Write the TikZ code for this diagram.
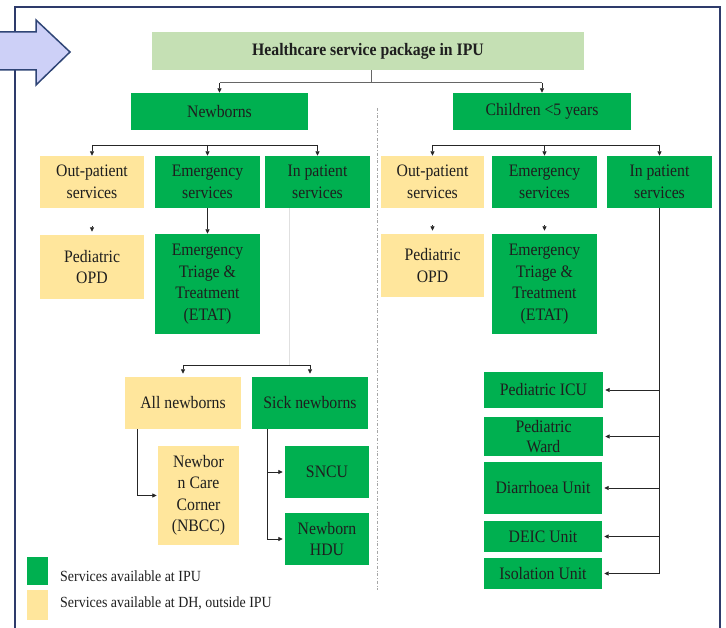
\documentclass[tikz,border=0pt]{standalone}
\usepackage{fontspec}
\setmainfont[FakeStretch=0.9]{Liberation Serif}
\usetikzlibrary{arrows.meta}
\definecolor{ipugreen}{HTML}{00B050}
\definecolor{dhyellow}{HTML}{FFE69C}
\definecolor{titlegreen}{HTML}{C5E0B4}
\definecolor{framenavy}{HTML}{2E3B6B}
\definecolor{arrowfill}{HTML}{CDD0F7}
\definecolor{arrowline}{HTML}{2F4576}
\definecolor{textdark}{HTML}{1E1E1E}
\begin{document}
\begin{tikzpicture}[x=1pt,y=-1pt,
  box/.style={draw=none, inner sep=0pt, align=center, text=textdark, font=\fontsize{17.5}{21.5}\selectfont},
  gbox/.style={box, fill=ipugreen},
  ybox/.style={box, fill=dhyellow},
  conn/.style={draw=black!85, line width=0.8pt},
  gconn/.style={draw=black!60, line width=1pt},
  faint/.style={draw=black!12, line width=0.8pt},
  arr/.style={conn, -{Triangle[length=4.5pt,width=4pt]}},
  sep/.style={draw=black!35, line width=0.5pt, dash pattern=on 3pt off 2pt on 0.5pt off 2pt},
  legtext/.style={anchor=west, inner sep=0pt, text=textdark, font=\fontsize{15.5}{17}\selectfont},
]
\useasboundingbox (0,0) rectangle (726,628);

% frame
\draw[framenavy, line width=2.5pt] (15,640) -- (15,7) -- (720,7) -- (720,640);
% block arrow
\draw[fill=arrowfill, draw=arrowline, line width=1.5pt, line join=miter]
  (-3,32) -- (36,32) -- (36,20) -- (70,52) -- (36,85) -- (36,70) -- (-3,70) -- cycle;

% separator
\coordinate (s1) at (377,108);
\coordinate (s2) at (377,590);
\draw[sep] (s1) -- (s2);

% nodes
\node[box, fill=titlegreen, minimum width=432pt, minimum height=38pt, font=\fontsize{17.5}{20}\selectfont\bfseries] (title) at (368,51) {Healthcare service package in IPU};
\node[gbox, minimum width=177pt, minimum height=37pt] (newb) at (219.5,111.5) {Newborns};
\node[gbox, minimum width=178pt, minimum height=37pt] (child) at (542,111.5) {Children <5 years};

\node[ybox, minimum width=104pt, minimum height=52pt] (outl) at (92,182) {Out-patient\\services};
\node[gbox, minimum width=105pt, minimum height=52pt] (eml) at (207.5,182) {Emergency\\services};
\node[gbox, minimum width=105pt, minimum height=52pt] (inl) at (317.5,182) {In patient\\services};
\node[ybox, minimum width=104pt, minimum height=64pt] (opdl) at (92,267) {Pediatric\\OPD};
\node[gbox, minimum width=105pt, minimum height=100pt] (etatl) at (207.5,284) {Emergency\\Triage \&\\Treatment\\(ETAT)};

\node[ybox, minimum width=103pt, minimum height=52pt] (outr) at (432.5,182) {Out-patient\\services};
\node[gbox, minimum width=105pt, minimum height=52pt] (emr) at (544.5,182) {Emergency\\services};
\node[gbox, minimum width=105pt, minimum height=52pt] (inr) at (659.5,182) {In patient\\services};
\node[ybox, minimum width=103pt, minimum height=63pt] (opdr) at (432.5,265.5) {Pediatric\\OPD};
\node[gbox, minimum width=105pt, minimum height=100pt] (etatr) at (544.5,284) {Emergency\\Triage \&\\Treatment\\(ETAT)};

\node[gbox, minimum width=119pt, minimum height=36pt] (icu) at (543.5,390) {Pediatric ICU};
\node[gbox, minimum width=119pt, minimum height=39pt, font=\fontsize{17.5}{20}\selectfont] (ward) at (543.5,436.5) {Pediatric\\Ward};
\node[gbox, minimum width=118pt, minimum height=52pt] (diar) at (543,488) {Diarrhoea Unit};
\node[gbox, minimum width=118pt, minimum height=31pt] (deic) at (543,536.5) {DEIC Unit};
\node[gbox, minimum width=118pt, minimum height=31pt] (iso) at (543,573.5) {Isolation Unit};

\node[ybox, minimum width=116pt, minimum height=52pt] (allnb) at (183,403) {All newborns};
\node[gbox, minimum width=116pt, minimum height=52pt] (sick) at (310,403) {Sick newborns};
\node[ybox, minimum width=81pt, minimum height=99pt] (nbcc) at (198.5,495.5) {Newbor\\n Care\\Corner\\(NBCC)};
\node[gbox, minimum width=84pt, minimum height=52pt] (sncu) at (327,472) {SNCU};
\node[gbox, minimum width=84pt, minimum height=52pt] (hdu) at (327,539) {Newborn\\HDU};

% legend
\node[gbox, minimum width=21pt, minimum height=28pt] (leg1) at (37.5,571) {};
\node[ybox, minimum width=21pt, minimum height=30pt] (leg2) at (37.5,605) {};
\node[legtext] (legt1) at (60,576) {Services available at IPU};
\node[legtext] (legt2) at (60,603) {Services available at DH, outside IPU};

% top connectors
\coordinate (j1) at (371,83);
\draw[gconn] (title.south -| j1) -- (j1);
\draw[gconn] (newb.north |- j1) -- (child.north |- j1);
\draw[arr] (newb.north |- j1) -- (newb.north);
\draw[arr] (child.north |- j1) -- (child.north);

% row 2 connectors
\coordinate (j2) at (0,145);
\draw[conn] (outl.north |- j2) -- (inl.north |- j2);
\draw[conn] (outr.north |- j2) -- (inr.north |- j2);
\foreach \n in {outl,eml,inl,outr,emr,inr}{
  \draw[arr] (\n.north |- j2) -- (\n.north);
}

% stubs and emergency link
\draw[arr] ([yshift=9pt]opdl.north) -- ([yshift=3pt]opdl.north);
\draw[arr] ([yshift=9pt]opdr.north) -- ([yshift=3pt]opdr.north);
\draw[arr] ([yshift=9pt]etatr.north) -- ([yshift=3pt]etatr.north);
\draw[arr] (eml.south) -- (etatl.north);

% newborn inpatient branch
\coordinate (j3) at (0,365);
\draw[faint] ([xshift=-28.5pt]inl.south) -- ([xshift=-28.5pt]inl.south |- j3);
\draw[conn] (allnb.north |- j3) -- (sick.north |- j3);
\draw[arr] (allnb.north |- j3) -- ([yshift=3pt]allnb.north);
\draw[arr] (sick.north |- j3) -- ([yshift=3pt]sick.north);
\draw[arr] ([xshift=13pt]allnb.south west) |- ([xshift=-1pt]nbcc.west);
\draw[arr] ([xshift=16pt]sick.south west) |- ([xshift=-2pt]sncu.west);
\draw[arr] ([xshift=16pt]sick.south west) |- ([xshift=-2pt]hdu.west);

% child inpatient branch
\draw[conn] (inr.south) -- (inr.south |- iso.east);
\foreach \n in {icu,ward,diar,deic,iso}{
  \draw[arr] (inr.south |- \n.east) -- ([xshift=2pt]\n.east);
}
\end{tikzpicture}
\end{document}
